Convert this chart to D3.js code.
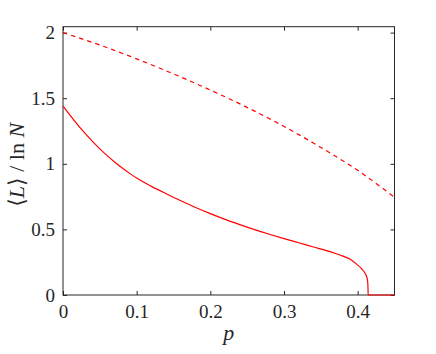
<!DOCTYPE html>
<html><head><meta charset="utf-8">
<script src="https://cdn.jsdelivr.net/npm/d3@7"></script>
<style>body{margin:0;background:#fff}svg{display:block}text{font-family:"Liberation Serif","Times New Roman",Tinos,"DejaVu Serif","Noto Serif",serif;fill:#262626}</style>
</head><body>
<svg id="c" width="436" height="354"></svg>
<script>
const xTicks = [0, 0.1, 0.2, 0.3, 0.4];
const yTicks = [0, 0.5, 1, 1.5, 2];
const yTickLabels = ["0", "0.5", "1", "1.5", "2"];
const xTickLabels = ["0", "0.1", "0.2", "0.3", "0.4"];
const dashedP = [0, 0.05, 0.1, 0.15, 0.2, 0.25, 0.3, 0.35, 0.4, 0.45];
const dashedL = [2.0, 1.905, 1.80, 1.685, 1.562, 1.43, 1.285, 1.125, 0.95, 0.745];
const solidP = [0, 0.01, 0.02, 0.03, 0.04, 0.05, 0.06, 0.07, 0.08, 0.09, 0.1, 0.12, 0.14, 0.16, 0.18, 0.2, 0.22, 0.24, 0.26, 0.28, 0.3, 0.32, 0.34, 0.36, 0.37, 0.38, 0.39, 0.4, 0.405, 0.408, 0.41, 0.412, 0.413, 0.4136, 0.414, 0.4142, 0.45];
const solidL = [1.44, 1.367, 1.297, 1.232, 1.171, 1.114, 1.062, 1.014, 0.97, 0.929, 0.891, 0.828, 0.772, 0.718, 0.667, 0.62, 0.576, 0.536, 0.498, 0.463, 0.43, 0.398, 0.366, 0.334, 0.316, 0.296, 0.272, 0.228, 0.203, 0.183, 0.166, 0.143, 0.124, 0.1, 0.06, 0, 0];

const FONT = '"Liberation Serif","Times New Roman",Tinos,"DejaVu Serif","Noto Serif",serif';
const svg = d3.select("#c");
const L = 63, R = 394.5, T = 26.7, B = 295;
const x = d3.scaleLinear().domain([0, 0.45]).range([L, R]);
const y = d3.scaleLinear().domain([0, 2.045]).range([B, T]);
const axCol = "#262626";
const tl = 4;

const gx = svg.append("g").attr("transform", `translate(0,${B})`)
  .call(d3.axisBottom(x).tickValues(xTicks).tickSize(-tl).tickPadding(10).tickFormat((d,i)=>xTickLabels[i]));
const gxt = svg.append("g").attr("transform", `translate(0,${T})`)
  .call(d3.axisTop(x).tickValues(xTicks).tickSize(-tl).tickFormat(""));
const gy = svg.append("g").attr("transform", `translate(${L},0)`)
  .call(d3.axisLeft(y).tickValues(yTicks).tickSize(-tl).tickPadding(8).tickFormat((d,i)=>yTickLabels[i]));
const gyr = svg.append("g").attr("transform", `translate(${R},0)`)
  .call(d3.axisRight(y).tickValues(yTicks).tickSize(-tl).tickFormat(""));
[gx, gxt, gy, gyr].forEach(g => {
  g.attr("font-family", FONT);
  g.select(".domain").remove();
  g.selectAll("line").attr("stroke", axCol).attr("stroke-width", 1);
  g.selectAll("text").style("font-size", "19px").style("fill", axCol).style("font-family", FONT);
});
svg.append("rect").attr("x", L).attr("y", T).attr("width", R - L).attr("height", B - T)
  .attr("fill", "none").attr("stroke", axCol).attr("stroke-width", 1);

const line = d3.line().x(d => x(d[0])).y(d => y(d[1])).curve(d3.curveMonotoneX);
svg.append("path").datum(dashedP.map((p,i)=>[p, dashedL[i]]))
  .attr("d", line).attr("fill", "none").attr("stroke", "#ff0000")
  .attr("stroke-width", 1.2).attr("stroke-dasharray", "4.5,4");
svg.append("path").datum(solidP.map((p,i)=>[p, solidL[i]]))
  .attr("d", line).attr("fill", "none").attr("stroke", "#ff0000")
  .attr("stroke-width", 1.2);

svg.append("text").attr("x", (L + R) / 2).attr("y", 340).attr("text-anchor", "middle")
  .style("font-family", FONT).style("font-size", "22px").style("font-style", "italic").text("p");
const yl = svg.append("text").attr("transform", `translate(24,${(T + B) / 2 + 4}) rotate(-90)`)
  .attr("text-anchor", "middle").style("font-family", FONT).style("font-size", "22px");
yl.append("tspan").text("\u27E8");
yl.append("tspan").style("font-style", "italic").text("L");
yl.append("tspan").text("\u27E9 / ln ");
yl.append("tspan").style("font-style", "italic").text("N");
</script>
</body></html>
